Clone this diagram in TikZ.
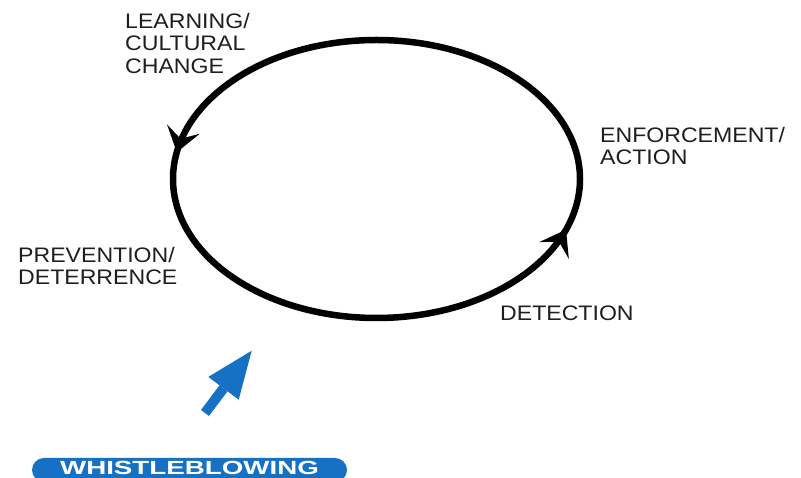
\documentclass[tikz,border=0pt]{standalone}
\usepackage{fontspec}
\usetikzlibrary{arrows.meta, decorations.markings}
\newfontfamily\labelfont[FakeStretch=1.1]{Liberation Sans}
\newfontfamily\pillfont[FakeStretch=1.46]{Liberation Sans}
\definecolor{wbblue}{RGB}{22,112,196}
\definecolor{labelgray}{RGB}{30,30,30}
\tikzset{
  cycle tip/.tip={Stealth[length=24pt, width=34pt, inset=10pt, line width=0pt]},
  cycle line/.style={
    line width=6.5pt,
    color=black,
    postaction={decorate},
    decoration={markings,
      mark=at position 0.475 with {\arrow{cycle tip}},
      mark=at position 0.951 with {\arrow{cycle tip}}}
  },
  stage label/.style={
    font=\labelfont\fontsize{21}{22.5}\selectfont,
    text=labelgray,
    align=left,
    inner sep=0pt,
    anchor=north west
  },
  whistle arrow/.style={
    -{Triangle[length=47pt, width=38pt, line width=0pt]},
    line width=10pt,
    color=wbblue
  },
  whistle pill/.style={
    rounded corners=12pt,
    fill=wbblue,
    text=white,
    font=\pillfont\bfseries\fontsize{19}{19}\selectfont,
    minimum width=315pt,
    minimum height=24pt,
    inner sep=0pt,
    text depth=4.3pt
  }
}

\begin{document}
\begin{tikzpicture}[x=1pt, y=1pt]
  \useasboundingbox (0,0) rectangle (801,478);
  \pgfmathsetmacro{\rx}{203.5}   % cycle half width
  \pgfmathsetmacro{\ry}{139}     % cycle half height

  %% ---- the cycle ----
  \coordinate (hub) at (376.5,299);
  \draw[cycle line] (hub) ellipse [x radius=\rx pt, y radius=\ry pt];

  %% ---- stages ----
  \node[stage label] (learning)   at (125,465) {LEARNING/\\CULTURAL\\CHANGE};
  \node[stage label] (enforce)    at (600,351) {ENFORCEMENT/\\ACTION};
  \node[stage label] (prevention) at (18,231)  {PREVENTION/\\DETERRENCE};
  \node[stage label] (detection)  at (500,172) {DETECTION};

  %% ---- whistleblowing ----
  \node[whistle pill] (wb) at (189.5,8) {WHISTLEBLOWING};
  \coordinate (wb tail) at (205,65);
  \coordinate (wb tip)  at (251.7,127.3);
  \draw[whistle arrow] (wb tail) -- (wb tip);

\end{tikzpicture}
\end{document}
